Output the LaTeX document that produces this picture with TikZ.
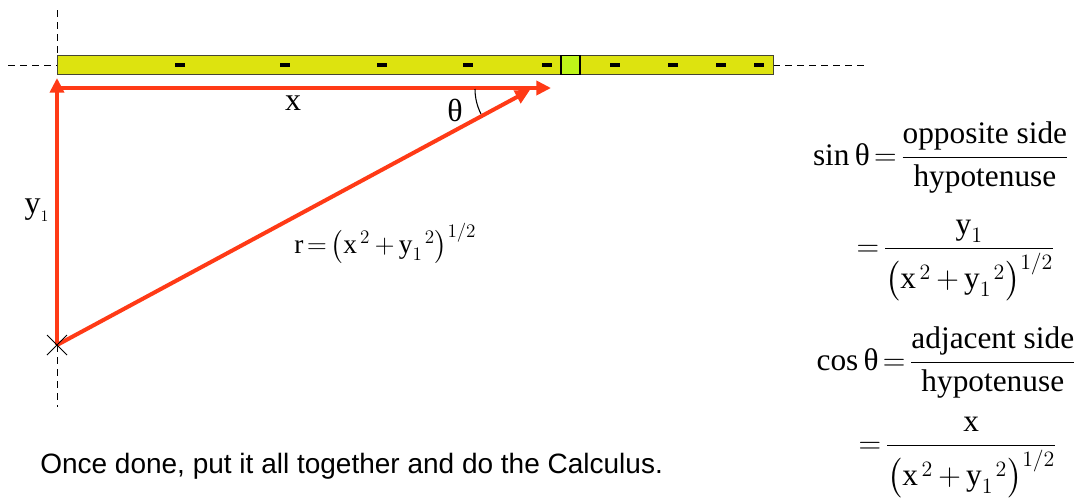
\RequirePackage{fix-cm}
\documentclass[tikz,border=0pt]{standalone}
\usepackage{amsmath}
\usepackage{fontspec}
\setmainfont{Liberation Serif}
\newfontfamily\notefont{Liberation Sans}
\usetikzlibrary{arrows.meta}
\definecolor{vecred}{RGB}{255,58,22}
\definecolor{baryellow}{RGB}{221,227,15}
\definecolor{bargreen}{RGB}{190,245,25}
\definecolor{baredge}{RGB}{70,70,50}
\newcommand{\sqx}{\text{x}^{\mkern3mu 2}}
\newcommand{\sqy}{\text{y}_1{}^{\mkern2mu 2}}
\newcommand{\rsum}{\bigl(\sqx+\sqy\bigr)^{1/2}}
\tikzset{
  vec/.style={draw=vecred, line width=3pt, -{Triangle[length=11pt,width=10.5pt]}},
  guide/.style={draw=black, line width=0.6pt, dash pattern=on 5.5pt off 3.5pt},
  lbl/.style={inner sep=0pt, font=\fontsize{24}{28}\selectfont},
  eqn/.style={inner sep=0pt, anchor=base east, font=\fontsize{23.5}{28}\selectfont},
  tick/.style={fill=black},
}
\begin{document}
\begin{tikzpicture}[x=0.75pt,y=-0.75pt]
\thickmuskip=2.5mu \medmuskip=3mu
\useasboundingbox (0,0) rectangle (1078,497);
% guide lines
\coordinate (gL) at (8,65);
\coordinate (gR) at (865,65);
\coordinate (gT) at (57,10);
\coordinate (gB) at (57,407);
\coordinate (barL) at (57,65);
\coordinate (barR) at (773,65);
\draw[guide] (gL) -- (barL);
\draw[guide] (barR) -- (gR);
\draw[guide] (gT) -- (57,55);
\draw[guide] (57,345) -- (gB);
% bar
\node[draw=baredge, fill=baryellow, line width=0.8pt, minimum width=716*0.75pt, minimum height=19.5*0.75pt, inner sep=0pt, anchor=west] (bar) at (barL) {};
\node[draw=black, fill=bargreen, line width=0.8pt, minimum width=19*0.75pt, minimum height=19.5*0.75pt, inner sep=0pt] (probe) at (570.5,65) {};
\foreach \t in {180,285,382,468,547,615,673,721,759}
  \fill[tick] (\t-5,63) rectangle (\t+5,67);
% vectors
\coordinate (O) at (57,345);
\coordinate (Y) at (57,78);
\coordinate (X0) at (57,88);
\coordinate (X) at (551,88);
\coordinate (H) at (530,90);
\draw[vec] (O) -- (Y);
\draw[vec] (X0) -- (X);
\draw[vec] (O) -- (H);
% source marker
\draw[line width=0.7pt] (47,335) -- (67,355) (47,355) -- (67,335);
% angle arc
\draw[line width=0.8pt] (475,89) arc[start angle=180, end angle=153, radius=55];
% labels
\node[lbl] (lx) at (293,103) {x};
\node[lbl] (lth) at (455,110) {θ};
\node[lbl] (ly) at (37,210) {$\text{y}_{\scriptscriptstyle 1}$};
\node[lbl, anchor=west, font=\fontsize{20.5}{25}\selectfont] (lr) at (294,243) {$\text{r}=\rsum$};
% equations
\node[eqn] (sin) at (1069,165) {$\displaystyle \sin\text{θ}=\frac{\text{opposite side}}{\text{hypotenuse}}$};
\node[eqn] (sin2) at (1055,256) {$\displaystyle =\frac{\text{y}_1}{\rsum}$};
\node[eqn] (cos) at (1076,370) {$\displaystyle \cos\text{θ}=\frac{\text{adjacent side}}{\text{hypotenuse}}$};
\node[eqn] (cos2) at (1057,453) {$\displaystyle =\frac{\text{x}}{\rsum}$};
% note
\node[inner sep=0pt, anchor=base west, font=\notefont\fontsize{21}{25}\selectfont] (note) at (40,473) {Once done, put it all together and do the Calculus.};
\end{tikzpicture}
\end{document}
